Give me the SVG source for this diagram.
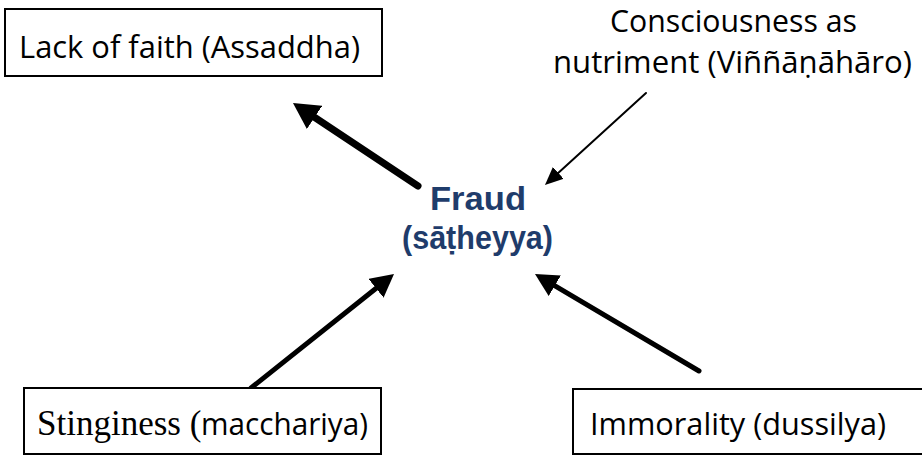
<svg xmlns="http://www.w3.org/2000/svg" width="922" height="462" viewBox="0 0 922 462">
  <style>
    .box { fill: #ffffff; stroke: #000000; stroke-width: 2; }
    .lbl { font-family: "Open Sans", "Noto Sans", "DejaVu Sans", sans-serif; font-size: 31px; fill: #000000; }
    .serif { font-family: "Liberation Serif", "Times New Roman", serif; font-size: 35px; }
    .center { font-family: "Liberation Sans", Arial, sans-serif; font-size: 33px; font-weight: bold; fill: #1F3C6B; }
    .conn { fill: none; stroke: #000000; stroke-linecap: round; }
  </style>
  <defs>
    <marker id="headA" markerUnits="userSpaceOnUse" markerWidth="26" markerHeight="28" refX="16" refY="14" orient="auto">
      <path d="M0,0 L26,14 L0,28 z" fill="#000000"/>
    </marker>
    <marker id="headB" markerUnits="userSpaceOnUse" markerWidth="23" markerHeight="24" refX="13" refY="12" orient="auto">
      <path d="M0,0 L23,12 L0,24 z" fill="#000000"/>
    </marker>
    <marker id="headC" markerUnits="userSpaceOnUse" markerWidth="18" markerHeight="16" refX="12" refY="8" orient="auto">
      <path d="M0,0 L18,8 L0,16 z" fill="#000000"/>
    </marker>
  </defs>
  <rect x="0" y="0" width="922" height="462" fill="#ffffff"/>

  <g id="connectors">
    <line class="conn" x1="418" y1="186" x2="301.3" y2="108.5" stroke-width="7" marker-end="url(#headA)"/>
    <line class="conn" x1="646" y1="93" x2="549.4" y2="181" stroke-width="2" marker-end="url(#headC)"/>
    <line class="conn" x1="251" y1="388" x2="386.2" y2="280.2" stroke-width="5" marker-end="url(#headB)"/>
    <line class="conn" x1="699" y1="371" x2="543.6" y2="279.1" stroke-width="5" marker-end="url(#headB)"/>
  </g>

  <g id="lack-of-faith">
    <rect class="box" x="5" y="9" width="377" height="67"/>
    <text class="lbl" x="19" y="58" textLength="341" lengthAdjust="spacingAndGlyphs">Lack of faith (Assaddha)</text>
  </g>

  <g id="consciousness">
    <text class="lbl" x="610" y="32" textLength="247" lengthAdjust="spacingAndGlyphs">Consciousness as</text>
    <text class="lbl" x="553" y="73" textLength="359" lengthAdjust="spacingAndGlyphs">nutriment (Viññāṇāhāro)</text>
  </g>

  <g id="fraud">
    <text class="center" x="430" y="210" textLength="96" lengthAdjust="spacingAndGlyphs">Fraud</text>
    <text class="center" x="402" y="249" textLength="151" lengthAdjust="spacingAndGlyphs">(sāṭheyya)</text>
  </g>

  <g id="stinginess">
    <rect class="box" x="24" y="388" width="357" height="66"/>
    <text x="37" y="435"><tspan class="serif">Stinginess (</tspan><tspan class="lbl" x="201" textLength="167" lengthAdjust="spacingAndGlyphs">macchariya)</tspan></text>
  </g>

  <g id="immorality">
    <rect class="box" x="573" y="389" width="360" height="65"/>
    <text class="lbl" x="590" y="435" textLength="296" lengthAdjust="spacingAndGlyphs">Immorality (dussilya)</text>
  </g>
</svg>
